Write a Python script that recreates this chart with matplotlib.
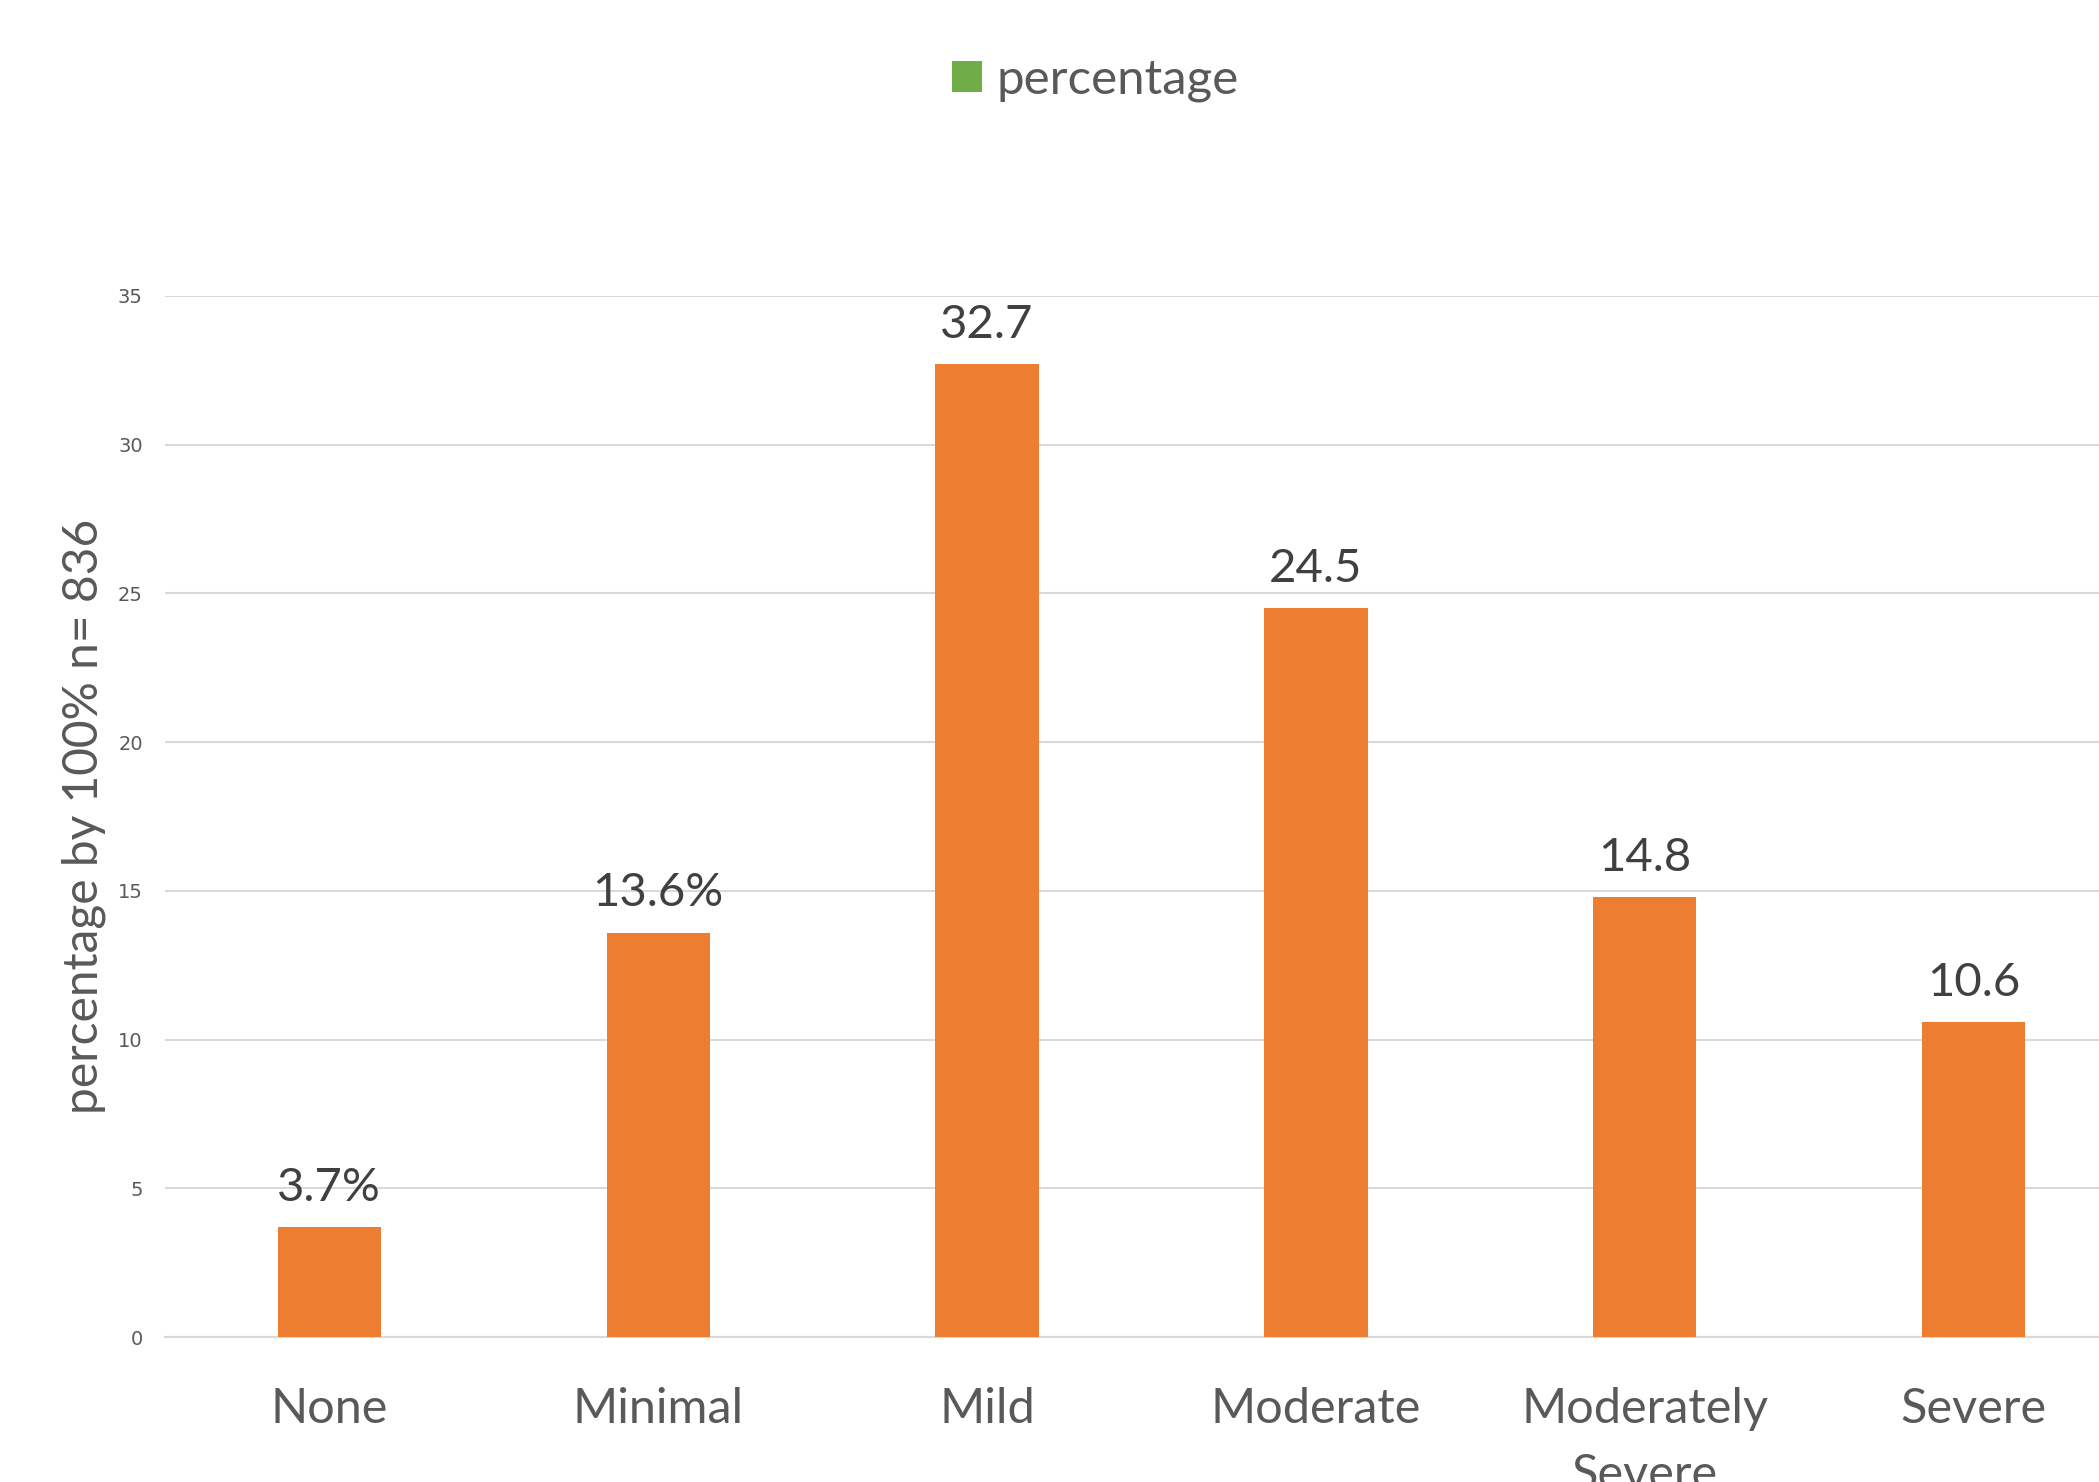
import matplotlib
matplotlib.use("Agg")
import matplotlib.pyplot as plt
from matplotlib.patches import Patch

# data
categories = ["None", "Minimal", "Mild", "Moderate", "Moderately\nSevere", "Severe"]
values = [3.7, 13.6, 32.7, 24.5, 14.8, 10.6]
value_labels = ["3.7%", "13.6%", "32.7", "24.5", "14.8", "10.6"]
yticks = [0, 5, 10, 15, 20, 25, 30, 35]

BAR_COLOR = "#ED7D31"
LEGEND_COLOR = "#70AD47"
TEXT_COLOR = "#595959"
LABEL_COLOR = "#404040"
GRID_COLOR = "#D9D9D9"

plt.rcParams["font.family"] = ["Lato", "DejaVu Sans"]

fig = plt.figure(figsize=(20.99, 14.82), dpi=100)
# axes run past the right edge, as in the cropped reference
ax = fig.add_axes([0.0786, 0.0978, 0.9400, 0.7025])

x = range(len(categories))
bars = ax.bar(x, values, width=0.314, color=BAR_COLOR, zorder=3)

for b, lab in zip(bars, value_labels):
    ax.annotate(lab, (b.get_x() + b.get_width() / 2, b.get_height()),
                xytext=(0, 13), textcoords="offset points",
                ha="center", va="bottom", fontsize=34, color=LABEL_COLOR)

ax.set_xlim(-0.5, 5.5)
ax.set_ylim(0, 35)
ax.set_yticks(yticks)
ax.set_xticks(list(x))
ax.set_xticklabels(categories, fontsize=35, color=TEXT_COLOR, linespacing=1.6, va="top")
ax.tick_params(axis="x", length=0, pad=36)
ax.tick_params(axis="y", length=0, pad=16, labelsize=14, labelcolor=TEXT_COLOR)
for t in ax.get_yticklabels():
    t.set_family(["DejaVu Sans"])

ax.grid(axis="y", color=GRID_COLOR, linewidth=1.5, zorder=0)
for side in ["top", "right", "left"]:
    ax.spines[side].set_visible(False)
ax.spines["bottom"].set_color(GRID_COLOR)
ax.spines["bottom"].set_linewidth(1.5)

fig.text(0.040, 0.449, "percentage by 100% n= 836", rotation=90,
         ha="center", va="center", fontsize=34.5, color=TEXT_COLOR)

handles = [Patch(facecolor=LEGEND_COLOR, edgecolor="none", label="percentage")]
fig.legend(handles=handles, loc="center", bbox_to_anchor=(0.522, 0.946),
           frameon=False, fontsize=35.5, labelcolor=TEXT_COLOR,
           handlelength=0.6, handleheight=0.6, handletextpad=0.3)

fig.savefig("out.png", dpi=100)
